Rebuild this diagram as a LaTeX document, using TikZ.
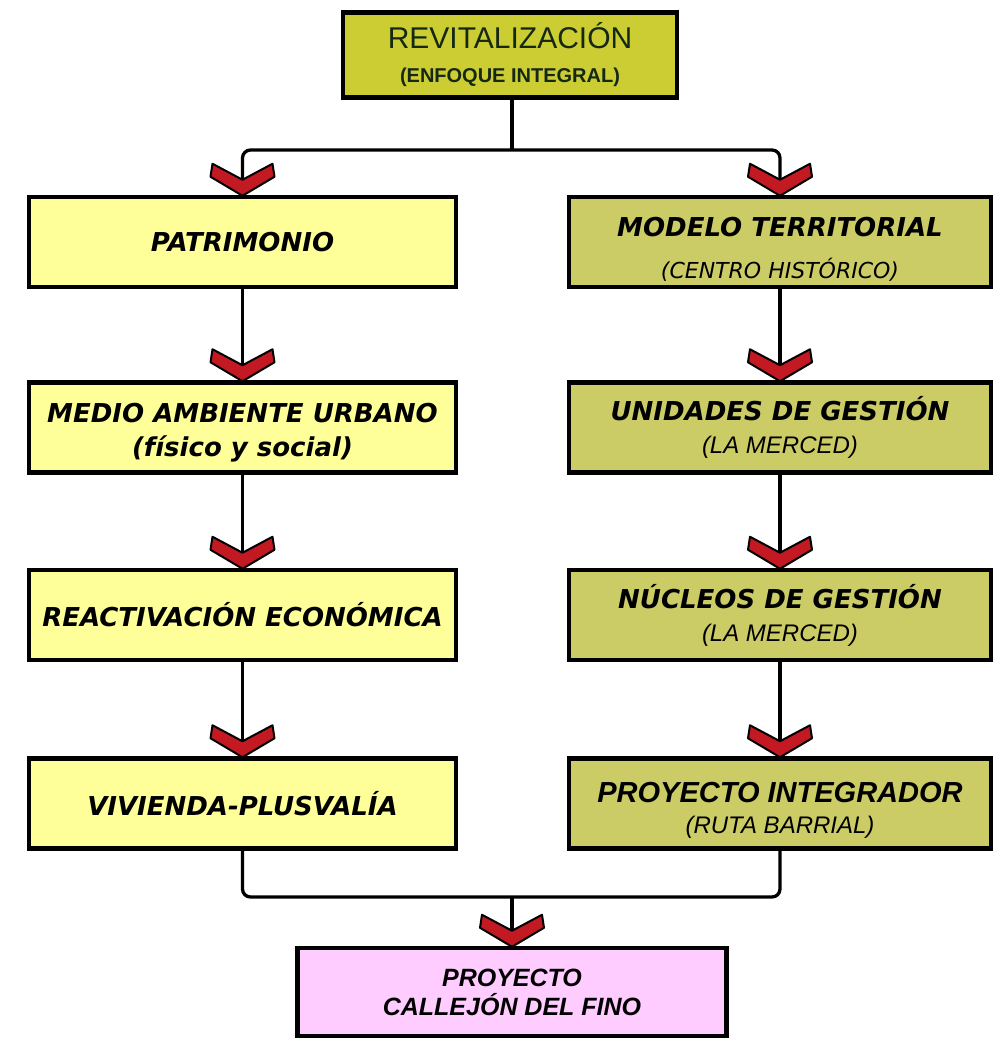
\documentclass[tikz,border=0pt]{standalone}
\usepackage{fontspec}
\setmainfont{Liberation Sans}
\newfontfamily\dvfont{DejaVu Sans}
\definecolor{lyel}{RGB}{255,255,153}
\definecolor{olivebox}{RGB}{204,204,102}
\definecolor{toprev}{RGB}{204,204,51}
\definecolor{pinkbox}{RGB}{255,204,255}
\definecolor{chevred}{RGB}{195,25,35}
\definecolor{revtext}{RGB}{20,40,20}
\newcommand\fxmain{\dvfont\bfseries\itshape\fontsize{26}{30}\selectfont}
\newcommand\fxsubdv{\dvfont\itshape\fontsize{22}{26}\selectfont}
\newcommand\fxsubar{\itshape\fontsize{24}{28}\selectfont}
\newcommand\fxarbi{\bfseries\itshape\fontsize{29}{32}\selectfont}
\tikzset{
  box/.style={draw=black, line width=4.5pt, align=center, inner sep=0pt},
  lbox/.style={box, fill=lyel, minimum width=427pt, minimum height=90pt},
  rbox/.style={box, fill=olivebox, minimum width=422pt, minimum height=90pt},
  conn/.style={line width=3.3pt, draw=black, rounded corners=8pt},
  pics/chev/.style={code={
    \draw[line width=2pt, fill=chevred, line join=round]
      (0,1) -- (-32,-18) -- (-30,-31) -- (0,-15) -- (30,-31) -- (32,-18) -- cycle;}}
}
\begin{document}
\begin{tikzpicture}[x=1pt,y=-1pt]
\useasboundingbox (0,0) rectangle (997,1039);
% top
\node[box, fill=toprev, minimum width=334pt, minimum height=85pt,
      font={\fontsize{20}{34}\selectfont}] (rev) at (510,55)
  {{\color{revtext}\fontsize{30}{30}\selectfont REVITALIZACIÓN}\\
   {\color{revtext}\bfseries\fontsize{20}{22}\selectfont (ENFOQUE INTEGRAL)}};
% left column
\node[lbox] (pat) at (242.5,242) {\fxmain PATRIMONIO};
\node[lbox, font={\fontsize{25}{34}\selectfont}] (med) at (242.5,427.5)
  {{\rule{0pt}{30pt}\fxmain MEDIO AMBIENTE URBANO}\\{\dvfont\bfseries\itshape\fontsize{26}{30}\selectfont (físico y social)}};
\node[lbox] (rea) at (242.5,615) {\fxmain REACTIVACIÓN ECONÓMICA};
\node[lbox] (viv) at (242.5,803.5) {\fxmain VIVIENDA-PLUSVALÍA};
% right column
\node[rbox, font={\fontsize{25}{42}\selectfont}] (mod) at (780,242)
  {{\rule{0pt}{33pt}\fxmain MODELO TERRITORIAL}\\{\fxsubdv (CENTRO HISTÓRICO)}};
\node[rbox, font={\fontsize{25}{33}\selectfont}] (uni) at (780,427.5)
  {{\fxmain UNIDADES DE GESTIÓN}\\{\fxsubar (LA MERCED)}};
\node[rbox, font={\fontsize{25}{33}\selectfont}] (nuc) at (780,615)
  {{\fxmain NÚCLEOS DE GESTIÓN}\\{\fxsubar (LA MERCED)}};
\node[rbox, font={\fontsize{25}{31}\selectfont}] (pin) at (780,803.5)
  {{\rule{0pt}{33pt}\fxarbi PROYECTO INTEGRADOR}\\{\fxsubar (RUTA BARRIAL)}};
% bottom
\node[box, fill=pinkbox, minimum width=429pt, minimum height=88pt,
      font={\fontsize{25}{29}\selectfont}] (cal) at (512,992)
  {{\bfseries\itshape PROYECTO}\\{\bfseries\itshape CALLEJÓN DEL FINO}};
% connectors
\coordinate (split) at (512,150);
\coordinate (join) at (512,897);
\draw[conn] (rev.south -| split) -- (split);
\draw[conn] (pat.north) |- (split) -| (mod.north);
\draw[conn] (pat.south) -- (med.north);
\draw[conn] (med.south) -- (rea.north);
\draw[conn] (rea.south) -- (viv.north);
\draw[conn] (mod.south) -- (uni.north);
\draw[conn] (uni.south) -- (nuc.north);
\draw[conn] (nuc.south) -- (pin.north);
\draw[conn] (viv.south) |- (join) -| (pin.south);
\draw[conn] (join) -- (cal.north);
% chevrons
\foreach \n in {pat,med,rea,viv,mod,uni,nuc,pin,cal}
  \pic at (\n.north) {chev};
\end{tikzpicture}
\end{document}
